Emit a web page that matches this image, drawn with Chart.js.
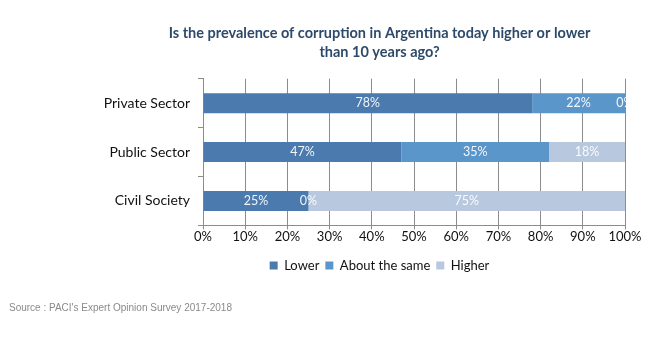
<!DOCTYPE html>
<html>
<head>
<meta charset="utf-8">
<script src="https://cdn.jsdelivr.net/npm/chart.js@4"></script>
<style>
  html, body { margin: 0; padding: 0; background: #fff; overflow: hidden; }
  #wrap { position: absolute; left: 0; top: 0; width: 650px; height: 343px; }
  #source { position: absolute; left: 9px; top: 302px; font: 10px "Liberation Sans", Arial, sans-serif; color: #8a8a8a; }
</style>
</head>
<body>
<div id="wrap"><canvas id="c" width="650" height="343"></canvas></div>
<div id="source">Source : PACI's Expert Opinion Survey 2017-2018</div>
<script>
const categories = ["Private Sector", "Public Sector", "Civil Society"];
const lowerValues = [78, 47, 25];
const sameValues = [22, 35, 0];
const higherValues = [0, 18, 75];
const seriesNames = ["Lower", "About the same", "Higher"];
const tickValues = [0, 10, 20, 30, 40, 50, 60, 70, 80, 90, 100];
const titleLines = ["Is the prevalence of corruption in Argentina today higher or lower", "than 10 years ago?"];

const fontFam = "Lato, 'Open Sans', sans-serif";

const labelPlugin = {
  id: 'barLabels',
  afterDatasetsDraw(chart) {
    const ctx = chart.ctx;
    const a = chart.chartArea;
    ctx.save();
    ctx.beginPath();
    ctx.rect(a.left, a.top - 2, a.right - a.left + 2, a.bottom - a.top + 4);
    ctx.clip();
    ctx.font = "12.5px " + fontFam;
    ctx.fillStyle = "rgba(255,255,255,0.92)";
    ctx.textAlign = "center";
    ctx.textBaseline = "middle";
    chart.data.datasets.forEach((ds, di) => {
      const meta = chart.getDatasetMeta(di);
      meta.data.forEach((bar, i) => {
        const v = ds.data[i];
        const x = (bar.x + bar.base) / 2;
        ctx.fillText(v + "%", x, bar.y);
      });
    });
    ctx.restore();
  }
};

// Centre the title and legend over the same point as the reference (x ~ 380)
const shiftPlugin = {
  id: 'shiftBlocks',
  afterLayout(chart) {
    const shift = 17;
    [chart.titleBlock, chart.legend].forEach(b => {
      if (b) { b.left += shift; b.right += shift; }
    });
  }
};

new Chart(document.getElementById('c'), {
  type: 'bar',
  data: {
    labels: categories,
    datasets: [
      { label: seriesNames[0], data: lowerValues, backgroundColor: '#4a7aae' },
      { label: seriesNames[1], data: sameValues, backgroundColor: '#5b96cb' },
      { label: seriesNames[2], data: higherValues, backgroundColor: '#b8c8df' }
    ]
  },
  plugins: [labelPlugin, shiftPlugin],
  options: {
    indexAxis: 'y',
    responsive: false,
    animation: false,
    devicePixelRatio: 1,
    layout: { padding: { left: 100, right: 25, top: 24, bottom: 61 } },
    datasets: { bar: { categoryPercentage: 0.41, barPercentage: 1.0 } },
    scales: {
      x: {
        stacked: true,
        min: 0, max: 100,
        afterBuildTicks(scale) { scale.ticks = tickValues.map(v => ({ value: v })); },
        afterFit(scale) { scale.height += 8; },
        ticks: { callback: v => v + '%', color: '#111', font: { family: fontFam, size: 13 }, padding: 0, maxRotation: 0 },
        grid: { color: '#8c8c8c', lineWidth: 1, tickLength: 4, drawTicks: true },
        border: { color: '#8c8c8c' }
      },
      y: {
        stacked: true,
        afterFit(scale) { scale.width = 103; },
        ticks: { color: '#111', font: { family: fontFam, size: 14 }, padding: 8 },
        grid: { offset: true, drawOnChartArea: false, tickLength: 5, color: '#8c8c8c' },
        border: { color: '#8c8c8c' }
      }
    },
    plugins: {
      title: {
        display: true,
        text: titleLines,
        color: '#2e4a6b',
        font: { family: fontFam, size: 14.5, weight: 'bold', lineHeight: 1.3 },
        padding: { top: 0, bottom: 17 }
      },
      legend: {
        position: 'bottom',
        labels: {
          boxWidth: 8, boxHeight: 8, padding: 6,
          color: '#111',
          font: { family: fontFam, size: 13 }
        }
      },
      tooltip: { enabled: false }
    }
  }
});
</script>
</body>
</html>
